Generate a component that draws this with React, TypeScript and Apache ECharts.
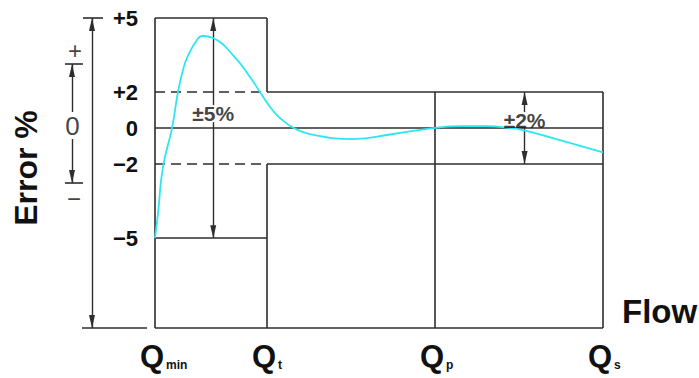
import React, { useEffect, useRef } from 'react';
import * as echarts from 'echarts';

// ---- data ----
const flowTicks = [0, 1, 2.5, 4]; // Qmin, Qt, Qp, Qs
const flowTickSubs = ['min', 't', 'p', 's'];
const errorTicks = [5, 2, 0, -2, -5];
const errorTickLabels = ['+5', '+2', '0', '−2', '−5'];
const lowZoneLimit = 5; // ±5 % between Qmin and Qt
const highZoneLimit = 2; // ±2 % between Qt and Qs
const zoneLabels = ['±5%', '±2%'];
const signLabels = ['+', '0', '−'];
const curveFlow = [0, 0.027, 0.071, 0.152, 0.205, 0.25, 0.286, 0.375, 0.429, 0.518, 0.696, 0.848, 0.9375, 1.009, 1.08, 1.161, 1.241, 1.384, 1.768, 2.125, 2.482, 2.723, 2.964, 3.17, 3.286, 3.554, 4.0];
const curveError = [-5, -3.99, -2.12, 0, 2, 2.89, 3.38, 4.11, 4.27, 4.19, 3.5, 2.61, 2, 1.33, 0.78, 0.33, 0, -0.33, -0.61, -0.33, 0, 0.11, 0.11, 0, -0.11, -0.56, -1.35];

// schematic vertical scale: the ±2 % band is drawn linearly, beyond it the scale is compressed
const BAND_STRETCH = 74 / 54;
function toAxis(e: number): number {
  const m = Math.abs(e);
  return m <= 2 ? e : Math.sign(e) * (2 + (m - 2) * BAND_STRETCH);
}

const FONT = '"Liberation Sans", Arial, Helvetica, sans-serif';
const INK = '#111111';
const LINE = '#2e2e2e';
const CYAN = '#2ee6f2';
const SUB_SIZE = 12;

function textWidth(text: string, font: string): number {
  const ctx = document.createElement('canvas').getContext('2d');
  if (!ctx) return text.length * 6;
  ctx.font = font;
  return ctx.measureText(text).width;
}

export default function App() {
  const ref = useRef<HTMLDivElement>(null);
  useEffect(() => {
    document.body.style.margin = '0';
    if (!ref.current) return;
    const chart = echarts.init(ref.current, undefined, { renderer: 'svg' });

    const [Qmin, Qt, Qp, Qs] = flowTicks;
    const yTop = toAxis(lowZoneLimit);
    const yMin = -11.1;
    const xMin = -155 / 112;
    const hi = toAxis(highZoneLimit);
    const lo = toAxis(lowZoneLimit);

    const seg = (x1: number, y1: number, x2: number, y2: number) => [{ coord: [x1, y1] }, { coord: [x2, y2] }];
    const arrowEnd = { symbol: 'triangle', symbolSize: [6, 13], symbolOffset: [0, '50%'] };
    const aseg = (x1: number, y1: number, x2: number, y2: number, a1: boolean, a2: boolean) => [
      { coord: [x1, y1], ...(a1 ? arrowEnd : {}) },
      { coord: [x2, y2], ...(a2 ? arrowEnd : {}) },
    ];

    const solid = [
      seg(Qmin, lo, Qt, lo),
      seg(Qmin, -lo, Qt, -lo),
      seg(Qmin, yTop, Qmin, yMin),
      seg(Qt, lo, Qt, hi),
      seg(Qt, -hi, Qt, yMin),
      seg(Qt, hi, Qs, hi),
      seg(Qt, -hi, Qs, -hi),
      seg(Qmin, 0, Qs, 0),
      seg(Qmin, yMin, Qs, yMin),
      seg(Qp, hi, Qp, yMin),
      seg(Qs, hi, Qs, yMin),
      // left range marker
      seg(-0.643, yTop, -0.464, yTop),
      seg(-0.652, yMin, -0.071, yMin),
      // small sign marker ticks
      seg(-0.804, 3.556, -0.643, 3.556),
      seg(-0.804, -3.056, -0.643, -3.056),
    ];
    const dashed = [seg(Qmin, hi, Qt, hi), seg(Qmin, -hi, Qt, -hi)];
    const xLow = 0.52;
    const xHigh = 3.3;
    const arrows = [
      aseg(xLow, lo, xLow, 1.28, true, false),
      aseg(xLow, 0.33, xLow, -lo, false, true),
      aseg(xHigh, hi, xHigh, 0.89, true, false),
      aseg(xHigh, 0, xHigh, -hi, false, true),
      aseg(-0.5625, yTop, -0.5625, yMin, true, true),
      aseg(-0.741, 3.556, -0.741, 0.89, true, false),
      aseg(-0.741, -0.61, -0.741, -3.056, false, true),
    ];

    const markLine = (data: any[], lineStyle: any) => ({
      silent: true,
      symbol: 'none',
      label: { show: false },
      emphasis: { disabled: true },
      lineStyle,
      data,
    });

    const labelStyle = (text: string, size: number, bold: boolean) => ({
      show: true,
      position: 'inside',
      formatter: text,
      fontSize: size,
      fontWeight: bold ? 'bold' : 'normal',
      fontFamily: FONT,
      color: INK,
    });

    const subFont = `bold ${SUB_SIZE}px "Liberation Sans", Arial, sans-serif`;
    const subWidths = flowTickSubs.map((s) => textWidth(s, subFont));
    const rich: Record<string, any> = {
      q: { fontSize: 31, fontWeight: 'bold', fontFamily: FONT, color: INK },
      s: { fontSize: SUB_SIZE, fontWeight: 'bold', fontFamily: FONT, color: INK, verticalAlign: 'bottom', padding: [0, 0, 1, 2] },
    };
    flowTickSubs.forEach((_, i) => {
      rich['sp' + i] = { width: Math.max(0, subWidths[i] + 2 - 6), fontSize: 10 };
    });

    chart.setOption({
      animation: false,
      backgroundColor: '#ffffff',
      grid: { left: 0, right: 96, top: 18, bottom: 50, containLabel: false, outerBoundsMode: 'none' },
      xAxis: {
        type: 'value',
        min: xMin,
        max: Qs,
        axisLine: { show: false, onZero: false },
        axisTick: { show: false },
        splitLine: { show: false },
        axisLabel: {
          customValues: flowTicks,
          margin: 13,
          formatter: (v: number) => {
            const i = flowTicks.findIndex((t) => Math.abs(t - v) < 1e-6);
            return i >= 0 ? `{sp${i}|}{q|Q}{s|${flowTickSubs[i]}}` : '';
          },
          rich,
        },
        name: 'Flow',
        nameLocation: 'end',
        nameGap: 19,
        nameMoveOverlap: false,
        nameTextStyle: { fontSize: 33, fontWeight: 'bold', fontFamily: FONT, color: INK, align: 'left', verticalAlign: 'bottom', lineHeight: 33 },
      },
      yAxis: {
        type: 'value',
        min: yMin,
        max: yTop,
        offset: xMin * 112,
        axisLine: { show: false, onZero: false },
        axisTick: { show: false },
        splitLine: { show: false },
        axisLabel: {
          customValues: errorTicks.map(toAxis),
          margin: 17,
          fontSize: 22,
          fontWeight: 'bold',
          fontFamily: FONT,
          color: INK,
          formatter: (v: number) => {
            const i = errorTicks.findIndex((e) => Math.abs(toAxis(e) - v) < 1e-6);
            return i >= 0 ? errorTickLabels[i] : '';
          },
        },
        name: 'Error %',
        nameLocation: 'middle',
        nameGap: 113,
        nameMoveOverlap: false,
        nameTextStyle: { fontSize: 32, fontWeight: 'bold', fontFamily: FONT, color: INK, padding: [0, 0, 0, 10] },
      },
      series: [
        { type: 'line', data: [], clip: false, silent: true, markLine: markLine(solid, { color: LINE, width: 1.6, type: 'solid' }) },
        { type: 'line', data: [], clip: false, silent: true, markLine: markLine(dashed, { color: LINE, width: 1.6, type: [10, 6] }) },
        { type: 'line', data: [], clip: false, silent: true, markLine: markLine(arrows, { color: LINE, width: 1.4, type: 'solid' }), itemStyle: { color: LINE } },
        {
          type: 'line',
          z: 5,
          silent: true,
          smooth: 0.5,
          symbol: 'none',
          clip: false,
          lineStyle: { color: CYAN, width: 1.8 },
          data: curveFlow.map((f, i) => [f, toAxis(curveError[i])]),
        },
        {
          type: 'scatter',
          z: 6,
          silent: true,
          symbolSize: 0,
          data: [
            { value: [xLow, 0.81], label: labelStyle(zoneLabels[0], 21, true) },
            { value: [xHigh, 0.42], label: labelStyle(zoneLabels[1], 21, true) },
            { value: [-0.714, 4.33], label: labelStyle(signLabels[0], 24, false) },
            { value: [-0.737, 0.11], label: labelStyle(signLabels[1], 26, false) },
            { value: [-0.723, -3.92], label: labelStyle(signLabels[2], 24, false) },
          ],
        },
      ],
    });
    return () => chart.dispose();
  }, []);
  return <div ref={ref} style={{ width: 699, height: 378 }} />;
}
